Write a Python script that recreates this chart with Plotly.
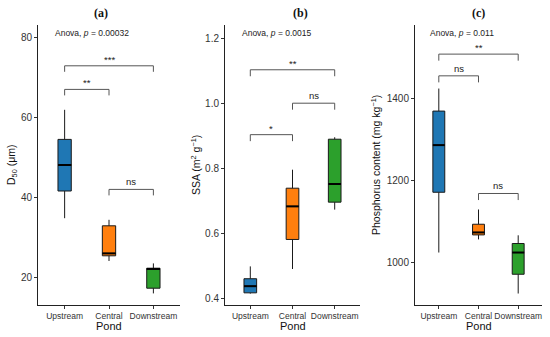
import plotly.graph_objects as go

categories = ["Upstream", "Central", "Downstream"]
colors = ["#1f77b4", "#ff7f0e", "#2ca02c"]

# Panel (a) D50
a_lower = [34.7, 24.0, 15.9]
a_q1 = [41.5, 25.3, 17.2]
a_median = [48.0, 25.9, 22.0]
a_q3 = [54.4, 32.8, 22.2]
a_upper = [61.8, 34.3, 23.4]
a_brackets = [(0, 2, 72.8, "***"), (0, 1, 66.9, "**"), (1, 2, 41.9, "ns")]
a_anova = "Anova, <i>p</i> = 0.00032"

# Panel (b) SSA
b_lower = [0.415, 0.491, 0.674]
b_q1 = [0.4175, 0.582, 0.697]
b_median = [0.438, 0.684, 0.753]
b_q3 = [0.461, 0.740, 0.891]
b_upper = [0.499, 0.797, 0.897]
b_brackets = [(0, 2, 1.105, "**"), (1, 2, 1.002, "ns"), (0, 1, 0.905, "*")]
b_anova = "Anova, <i>p</i> = 0.0015"

# Panel (c) Phosphorus
c_lower = [1025, 1057, 925]
c_q1 = [1172, 1068, 972]
c_median = [1287, 1074, 1025]
c_q3 = [1370, 1094, 1047]
c_upper = [1425, 1130, 1067]
c_brackets = [(0, 2, 1509, "**"), (0, 1, 1456, "ns"), (1, 2, 1169, "ns")]
c_anova = "Anova, <i>p</i> = 0.011"

W, H = 550, 337
FONT = "Liberation Sans, Arial, sans-serif"

panels = [
    dict(lower=a_lower, q1=a_q1, median=a_median, q3=a_q3, upper=a_upper,
         brackets=a_brackets, anova=a_anova, drop=1.5, fmt="d",
         yrange=[13, 83], ytick=[20, 40, 60, 80], xpx=[38, 180],
         ytitle="D<sub>50</sub> (μm)", ytitle_x=12, title="(a)", title_x=101, anova_x=53),
    dict(lower=b_lower, q1=b_q1, median=b_median, q3=b_q3, upper=b_upper,
         brackets=b_brackets, anova=b_anova, drop=0.02, fmt=".1f",
         yrange=[0.38, 1.243], ytick=[0.4, 0.6, 0.8, 1.0, 1.2], xpx=[225, 360],
         ytitle="SSA (m<sup>2</sup> g<sup>−1</sup>)", ytitle_x=196, title="(b)", title_x=300, anova_x=240),
    dict(lower=c_lower, q1=c_q1, median=c_median, q3=c_q3, upper=c_upper,
         brackets=c_brackets, anova=c_anova, drop=16, fmt="d",
         yrange=[897, 1580], ytick=[1000, 1200, 1400], xpx=[415, 542],
         ytitle="Phosphorus content (mg kg<sup>−1</sup>)", ytitle_x=376, title="(c)", title_x=478, anova_x=428),
]

fig = go.Figure()
annotations = []
top_px, bot_px = 25, 305
positions = list(range(len(categories)))
half_w = 0.15

for k, p in enumerate(panels):
    sfx = "" if k == 0 else str(k + 1)
    xa, ya = "x" + sfx, "y" + sfx
    for i, cat in enumerate(categories):
        fig.add_trace(go.Box(
            x=[positions[i]], q1=[p["q1"][i]], median=[p["median"][i]], q3=[p["q3"][i]],
            lowerfence=[p["lower"][i]], upperfence=[p["upper"][i]],
            fillcolor=colors[i], line=dict(color="#1a1a1a", width=1),
            whiskerwidth=0, width=0.3, boxpoints=False, showlegend=False,
            xaxis=xa, yaxis=ya, hoverinfo="skip"))
        fig.add_trace(go.Scatter(
            x=[positions[i] - half_w, positions[i] + half_w],
            y=[p["median"][i], p["median"][i]], mode="lines",
            line=dict(color="black", width=2), showlegend=False,
            xaxis=xa, yaxis=ya, hoverinfo="skip"))
    for (i0, i1, yb, lab) in p["brackets"]:
        fig.add_trace(go.Scatter(
            x=[positions[i0], positions[i0], positions[i1], positions[i1]],
            y=[yb - p["drop"], yb, yb, yb - p["drop"]], mode="lines",
            line=dict(color="#555555", width=1), showlegend=False,
            xaxis=xa, yaxis=ya, hoverinfo="skip"))
        annotations.append(dict(
            x=(positions[i0] + positions[i1]) / 2, y=yb, xref=xa, yref=ya,
            text=lab, showarrow=False, yanchor="bottom", yshift=-1 if "*" in lab else 0,
            font=dict(family=FONT, size=9.5, color="#222")))
    dom_x = [p["xpx"][0] / W, p["xpx"][1] / W]
    dom_y = [1 - bot_px / H, 1 - top_px / H]
    axis_common = dict(showline=True, linecolor="#222", linewidth=1, ticks="outside",
                       ticklen=3, tickcolor="#333", showgrid=False, zeroline=False)
    fig.update_layout(**{
        ("xaxis" + sfx): dict(domain=dom_x, range=[-0.6, 2.6], tickvals=positions,
                              ticktext=categories, anchor=ya,
                              tickfont=dict(family=FONT, size=8.5, color="#333"), **axis_common),
        ("yaxis" + sfx): dict(domain=dom_y, range=p["yrange"], tickvals=p["ytick"],
                              tickformat=p["fmt"],
                              anchor=xa, tickfont=dict(family=FONT, size=10, color="#333"),
                              **axis_common),
    })
    annotations.append(dict(x=p["anova_x"] / W, y=1 - 33 / H, xref="paper", yref="paper",
                            text=p["anova"], showarrow=False, xanchor="left", yanchor="middle",
                            font=dict(family=FONT, size=8.5, color="#222")))
    annotations.append(dict(x=p["title_x"] / W, y=1 - 13 / H, xref="paper", yref="paper",
                            text="<b>" + p["title"] + "</b>", showarrow=False,
                            xanchor="center", yanchor="middle",
                            font=dict(family="Liberation Serif, Times New Roman, serif", size=12, color="#111")))
    annotations.append(dict(x=p["ytitle_x"] / W, y=1 - 165 / H, xref="paper", yref="paper",
                            text=p["ytitle"], showarrow=False, textangle=-90,
                            xanchor="center", yanchor="middle",
                            font=dict(family=FONT, size=10.5, color="#111")))
    annotations.append(dict(x=(p["xpx"][0] + p["xpx"][1]) / 2 / W, y=1 - 326 / H,
                            xref="paper", yref="paper", text="Pond", showarrow=False,
                            xanchor="center", yanchor="middle",
                            font=dict(family=FONT, size=11, color="#111")))

fig.update_layout(width=W, height=H, margin=dict(l=0, r=0, t=0, b=0),
                  paper_bgcolor="white", plot_bgcolor="white",
                  annotations=annotations, boxmode="overlay")
fig.write_html("out.html", config={"displayModeBar": False},
               post_script="document.body.style.margin='0';document.body.style.padding='0';"
                           "document.documentElement.style.overflow='hidden';")
